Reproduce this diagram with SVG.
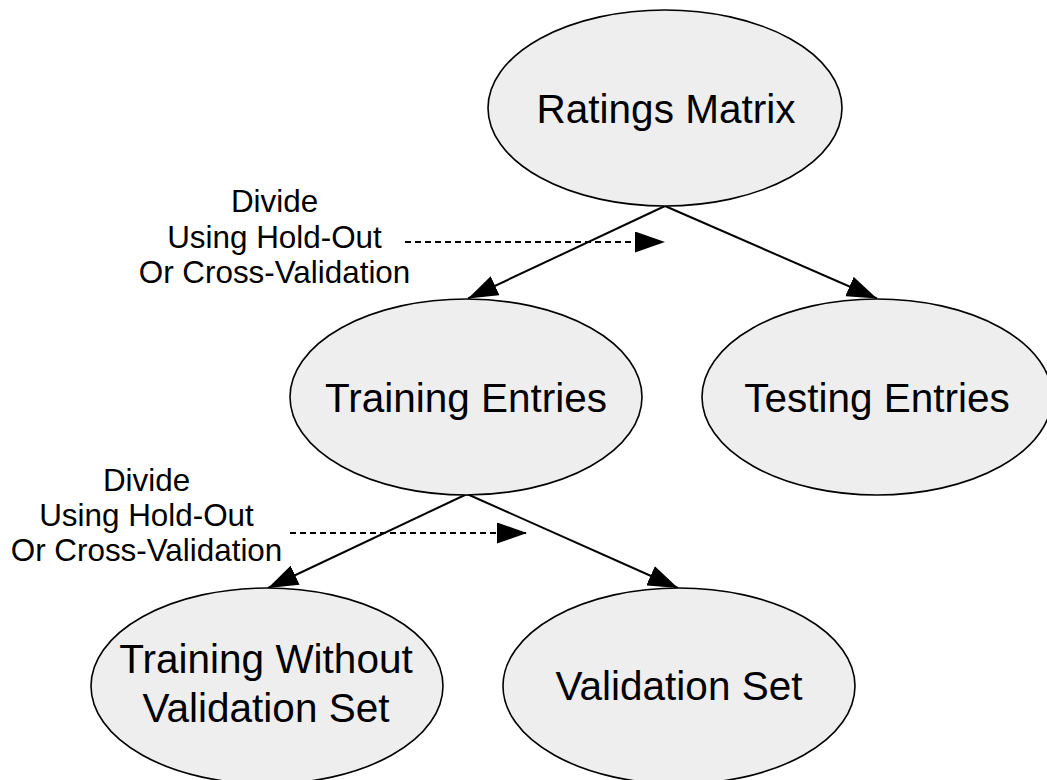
<svg xmlns="http://www.w3.org/2000/svg" width="1047" height="780" viewBox="0 0 1047 780">
<style>
.node ellipse{fill:#eeeeee;stroke:#000;stroke-width:1.6}
.node text{font-family:"Liberation Sans",Arial,sans-serif;font-size:40.5px;fill:#000;text-anchor:middle}
.lbl{font-family:"Liberation Sans",Arial,sans-serif;font-size:31.4px;fill:#000;text-anchor:middle}
.edge{stroke:#000;stroke-width:2;fill:none}
.dash{stroke:#000;stroke-width:2;fill:none;stroke-dasharray:6 4}
</style>
<defs>
<marker id="arr" viewBox="0 0 30 21" markerWidth="30" markerHeight="21" markerUnits="userSpaceOnUse" refX="30" refY="10.5" orient="auto">
<path d="M0,0 L30,10.5 L0,21 Z" fill="#000"/>
</marker>
</defs>
<rect width="1047" height="780" fill="#fff"/>
<g id="connectors">
<line class="edge" x1="665" y1="206" x2="468" y2="298.5" marker-end="url(#arr)"/>
<line class="edge" x1="665" y1="206" x2="877" y2="298.5" marker-end="url(#arr)"/>
<line class="dash" x1="405" y1="242" x2="665" y2="242" marker-end="url(#arr)"/>
<line class="edge" x1="467" y1="494" x2="268" y2="588" marker-end="url(#arr)"/>
<line class="edge" x1="467" y1="494" x2="678" y2="588" marker-end="url(#arr)"/>
<line class="dash" x1="290" y1="533" x2="527" y2="533" marker-end="url(#arr)"/>
</g>
<g id="ratings-matrix" class="node">
<ellipse cx="665" cy="108" rx="177" ry="98"/>
<text x="666" y="123">Ratings Matrix</text>
</g>
<g id="training-entries" class="node">
<ellipse cx="466" cy="397" rx="176" ry="98"/>
<text x="466" y="412">Training Entries</text>
</g>
<g id="testing-entries" class="node">
<ellipse cx="877" cy="397" rx="175" ry="98"/>
<text x="877" y="412">Testing Entries</text>
</g>
<g id="training-without-validation" class="node">
<ellipse cx="267" cy="686" rx="176" ry="98"/>
<text x="266" y="673">Training Without</text>
<text x="266" y="722">Validation Set</text>
</g>
<g id="validation-set" class="node">
<ellipse cx="679" cy="686" rx="176" ry="98"/>
<text x="679" y="700">Validation Set</text>
</g>
<g id="label-1">
<text class="lbl" x="274.5" y="212">Divide</text>
<text class="lbl" x="274.5" y="248">Using Hold-Out</text>
<text class="lbl" x="274.5" y="283">Or Cross-Validation</text>
</g>
<g id="label-2">
<text class="lbl" x="146.5" y="491">Divide</text>
<text class="lbl" x="146.5" y="526">Using Hold-Out</text>
<text class="lbl" x="146.5" y="561">Or Cross-Validation</text>
</g>
</svg>
